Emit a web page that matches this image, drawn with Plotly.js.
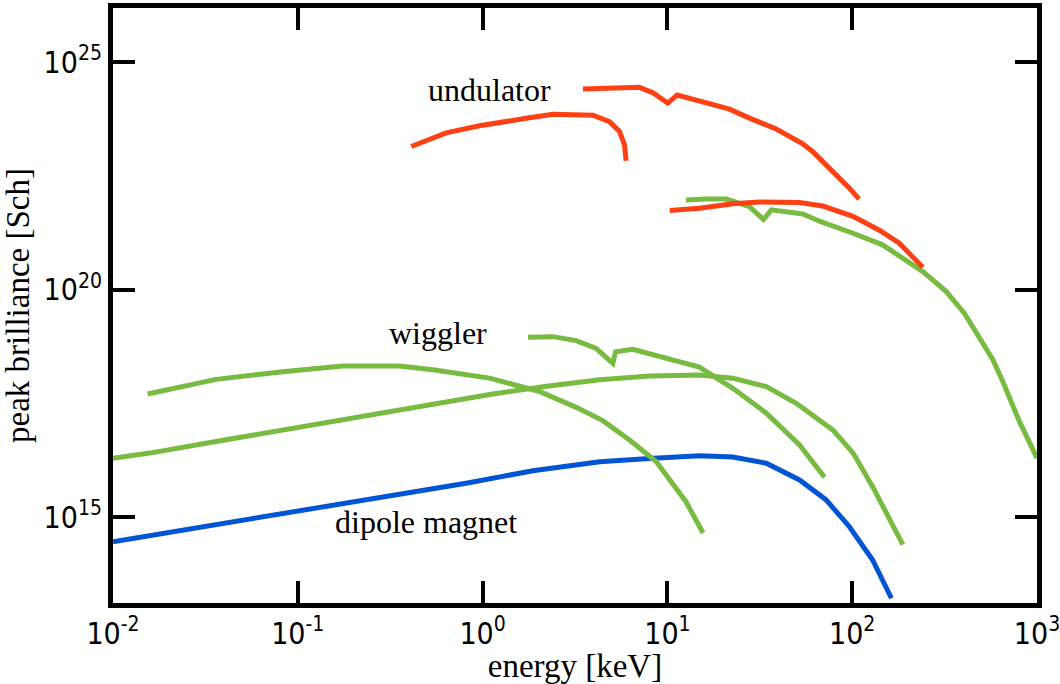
<!DOCTYPE html>
<html>
<head>
<meta charset="utf-8">
<script src="https://cdn.plot.ly/plotly-3.0.1.min.js"></script>
<style>html,body{margin:0;padding:0;background:#fff;}#chart{width:1060px;height:684px;}</style>
</head>
<body>
<div id="chart"></div>
<script>
// Energy [keV] and peak brilliance [Sch]
var undulatorLowEnergy = [0.411, 0.635, 0.962, 1.34, 1.79, 2.40, 3.08, 3.95, 4.86, 5.51, 5.86, 5.98];
var undulatorLowBrill  = [1.40e23, 2.8e23, 4.0e23, 5.1e23, 6.0e23, 7.2e23, 7.2e23, 6.8e23, 4.9e23, 3.0e23, 1.5e23, 6.8e22];

var undulatorHighEnergy = [3.49, 5.07, 7.06, 8.34, 10.05, 11.3, 21.7, 27.8, 38.8, 54.0, 61.2, 96.6, 109];
var undulatorHighBrill  = [2.56e24, 2.76e24, 2.8e24, 2.14e24, 1.26e24, 1.9e24, 9.3e23, 5.9e23, 3.4e23, 1.6e23, 1.08e23, 1.7e22, 9.8e21];

var undulatorHardEnergy = [10.3, 14.9, 22.6, 31.5, 51.9, 69.3, 101, 141, 180, 241];
var undulatorHardBrill  = [5.5e21, 6.2e21, 7.7e21, 8.5e21, 8.2e21, 6.9e21, 4.1e21, 2.0e21, 1.05e21, 3.1e20];

var wigglerHighEnergy = [12.6, 16.2, 20.8, 27.8, 33.1, 36.5, 54.1, 66.5, 101, 146, 241, 323, 405, 577, 653, 804, 1000];
var wigglerHighBrill  = [9.3e21, 9.9e21, 9.8e21, 6.7e21, 3.5e21, 5.7e21, 4.6e21, 3.2e21, 1.74e21, 9.7e20, 2.5e20, 9.1e19, 3.0e19, 2.9e18, 9.6e17, 1.26e17, 2.0e16];

var wigglerMidEnergy = [1.76, 2.40, 3.21, 4.12, 5.07, 5.24, 6.50, 8.34, 11.6, 14.9, 22.6, 34.3, 51.9, 70.8];
var wigglerMidBrill  = [9.0e18, 9.3e18, 7.6e18, 5.1e18, 2.4e18, 4.3e18, 4.9e18, 3.7e18, 2.6e18, 2.0e18, 6.8e17, 1.94e17, 3.9e16, 7.6e15];

var wigglerLongEnergy = [0.01, 0.0158, 0.0361, 0.0675, 0.155, 0.355, 0.585, 1.135, 2.12, 4.30, 8.0, 14.9, 22.6, 34.3, 49.8, 78.5, 101, 129, 188];
var wigglerLongBrill  = [1.98e16, 2.57e16, 4.63e16, 7.2e16, 1.30e17, 2.34e17, 3.4e17, 5.1e17, 7.4e17, 1.05e18, 1.27e18, 1.34e18, 1.14e18, 7.4e17, 3.2e17, 8.3e16, 2.6e16, 4.7e15, 2.5e14];

var wigglerLowEnergy = [0.0154, 0.0361, 0.083, 0.175, 0.355, 0.538, 1.09, 2.03, 3.21, 4.47, 6.24, 8.69, 12.6, 14.9, 15.6];
var wigglerLowBrill  = [5.1e17, 1.07e18, 1.58e18, 2.1e18, 2.1e18, 1.74e18, 1.14e18, 5.8e17, 2.6e17, 1.33e17, 5.0e16, 1.67e16, 2.2e15, 6.2e14, 4.5e14];

var dipoleEnergy = [0.01, 0.102, 0.814, 1.87, 4.30, 8.0, 14.9, 22.6, 34.3, 51.9, 72.3, 96.6, 129, 163];
var dipoleBrill  = [2.91e14, 1.36e15, 5.6e15, 1.05e16, 1.66e16, 1.95e16, 2.24e16, 2.1e16, 1.54e16, 6.6e15, 2.4e15, 6.2e14, 1.15e14, 1.66e13];

var xTickVals = [0.01, 0.1, 1, 10, 100, 1000];
var xTickText = ['10<sup>-2</sup>', '10<sup>-1</sup>', '10<sup>0</sup>', '10<sup>1</sup>', '10<sup>2</sup>', '10<sup>3</sup>'];
var yTickVals = [1e15, 1e20, 1e25];
var yTickText = ['10<sup>15</sup>', '10<sup>20</sup>', '10<sup>25</sup>'];

var labels = ['undulator', 'wiggler', 'dipole magnet'];
var labelEnergy = [1.096, 0.575, 0.492];
var labelBrill = [2.45e24, 1.1e19, 7.9e14];

var RED = '#ff4013', GREEN = '#77bb41', BLUE = '#0055d4';
function line(x, y, c) {
  return {x: x, y: y, type: 'scatter', mode: 'lines', line: {color: c, width: 5, shape: 'linear'}, hoverinfo: 'x+y'};
}
var data = [
  line(dipoleEnergy, dipoleBrill, BLUE),
  line(wigglerLongEnergy, wigglerLongBrill, GREEN),
  line(wigglerLowEnergy, wigglerLowBrill, GREEN),
  line(wigglerMidEnergy, wigglerMidBrill, GREEN),
  line(wigglerHighEnergy, wigglerHighBrill, GREEN),
  line(undulatorHardEnergy, undulatorHardBrill, RED),
  line(undulatorLowEnergy, undulatorLowBrill, RED),
  line(undulatorHighEnergy, undulatorHighBrill, RED)
];

var tickFont = {family: 'Liberation Sans Narrow, DejaVu Sans Condensed, Liberation Sans, sans-serif', size: 30, color: '#000'};
var serif = 'Liberation Serif, Times New Roman, serif';
var annotations = labels.map(function (t, i) {
  return {text: t, x: Math.log10(labelEnergy[i]), y: Math.log10(labelBrill[i]), xref: 'x', yref: 'y',
          showarrow: false, font: {family: serif, size: 32, color: '#000'}};
});

var axisCommon = {
  type: 'log', showgrid: false, zeroline: false, showline: true, linewidth: 5, linecolor: '#000',
  mirror: 'ticks', ticks: 'inside', ticklen: 22, tickwidth: 4, tickcolor: '#000', tickfont: tickFont,
  ticklabeloverflow: 'allow'
};
var layout = {
  width: 1060, height: 684,
  margin: {l: 113, r: 23, t: 8, b: 81},
  paper_bgcolor: '#fff', plot_bgcolor: '#fff',
  showlegend: false,
  xaxis: Object.assign({}, axisCommon, {
    range: [-2, 3], tickvals: xTickVals, ticktext: xTickText,
    title: {text: 'energy [keV]', font: {family: serif, size: 33, color: '#000'}, standoff: 5}
  }),
  yaxis: Object.assign({}, axisCommon, {
    range: [13.116, 26.19], tickvals: yTickVals, ticktext: yTickText,
    title: {text: 'peak brilliance [Sch]', font: {family: serif, size: 33, color: '#000'}, standoff: 8}
  }),
  annotations: annotations
};
Plotly.newPlot('chart', data, layout, {displayModeBar: false, staticPlot: true});
</script>
</body>
</html>
